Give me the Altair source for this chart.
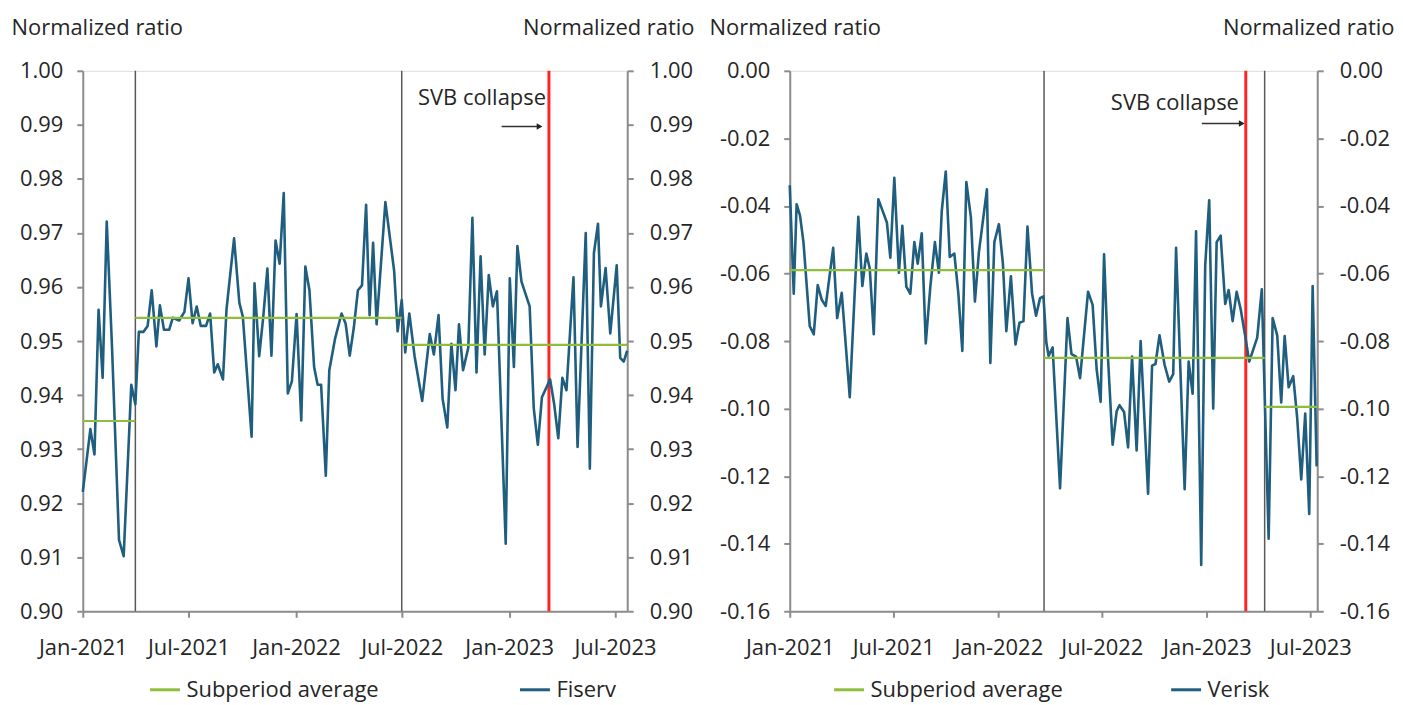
import altair as alt
import pandas as pd

BLUE = "#1f5e7e"
GREEN = "#8fbd3c"
RED = "#ff2424"
DARK = "#595959"
TEXT = "#262626"
AXIS = "#8c8c8c"
FONT = "Open Sans"
FS = 22

START = "2021-01-01"
SVB_DATE = "2023-03-10"
x_tick_dates = ["2021-01-01", "2021-07-01", "2022-01-01", "2022-07-01", "2023-01-01", "2023-07-01"]

# ---- Fiserv (days since 2021-01-01, normalized ratio) ----
fiserv_days = [0, 13, 20, 27, 34, 41, 50, 62, 70, 83, 90, 96, 104, 111, 118, 126, 132, 139, 148, 154,
               165, 174, 181, 188, 195, 202, 211, 218, 225, 231, 240, 246, 259, 268, 274, 289, 294, 302,
               309, 316, 323, 330, 337, 344, 351, 358, 366, 374, 381, 388, 396, 402, 408, 416, 422, 432,
               443, 450, 457, 464, 471, 478, 485, 491, 497, 503, 518, 533, 539, 546, 552, 559, 568, 581,
               594, 601, 609, 616, 624, 631, 638, 644, 651, 660, 667, 674, 681, 688, 695, 702, 709, 724,
               731, 738, 744, 751, 765, 772, 779, 786, 800, 807, 814, 821, 828, 840, 847, 861, 868, 875,
               882, 887, 895, 903, 914, 920, 926, 932]
fiserv_values = [0.9221, 0.9337, 0.9290, 0.9558, 0.9432, 0.9721, 0.9490, 0.9132, 0.9102, 0.9419,
                 0.9383, 0.9517, 0.9517, 0.9528, 0.9594, 0.9490, 0.9566, 0.9521, 0.9521, 0.9543,
                 0.9538, 0.9554, 0.9616, 0.9533, 0.9564, 0.9528, 0.9528, 0.9551, 0.9442, 0.9457,
                 0.9429, 0.9558, 0.9690, 0.9571, 0.9545, 0.9323, 0.9607, 0.9472, 0.9545, 0.9634,
                 0.9473, 0.9686, 0.9643, 0.9774, 0.9403, 0.9426, 0.9550, 0.9353, 0.9638, 0.9594,
                 0.9452, 0.9419, 0.9419, 0.9251, 0.9446, 0.9505, 0.9551, 0.9532, 0.9473, 0.9525,
                 0.9594, 0.9603, 0.9752, 0.9548, 0.9682, 0.9531, 0.9757, 0.9630, 0.9518, 0.9576,
                 0.9479, 0.9551, 0.9472, 0.9389, 0.9513, 0.9475, 0.9548, 0.9393, 0.9340, 0.9495,
                 0.9409, 0.9531, 0.9446, 0.9488, 0.9728, 0.9442, 0.9657, 0.9475, 0.9622, 0.9564,
                 0.9592, 0.9125, 0.9616, 0.9452, 0.9676, 0.9610, 0.9564, 0.9376, 0.9308, 0.9396,
                 0.9429, 0.9383, 0.9320, 0.9432, 0.9409, 0.9618, 0.9304, 0.9700, 0.9264, 0.9663,
                 0.9717, 0.9564, 0.9635, 0.9514, 0.9640, 0.9469, 0.9462, 0.9482]
fiserv_avg_start = ["2021-01-01", "2021-04-01", "2022-07-01"]
fiserv_avg_end = ["2021-04-01", "2022-07-01", "2023-07-22"]
fiserv_avg_value = [0.9352, 0.9543, 0.9493]
fiserv_breaks = ["2021-04-01", "2022-07-01"]
fiserv_y_ticks = [0.90, 0.91, 0.92, 0.93, 0.94, 0.95, 0.96, 0.97, 0.98, 0.99, 1.00]

# ---- Verisk (days since 2021-01-01, normalized ratio) ----
verisk_days = [0, 7, 12, 18, 24, 35, 42, 49, 56, 63, 76, 83, 91, 105, 120, 127, 134, 140, 147, 155,
               163, 170, 176, 183, 191, 197, 204, 211, 218, 224, 231, 238, 246, 254, 261, 266, 273,
               280, 288, 295, 302, 309, 317, 324, 331, 345, 351, 358, 366, 373, 379, 387, 395, 402,
               409, 416, 424, 431, 438, 444, 449, 453, 460, 473, 486, 493, 501, 508, 522, 530, 537,
               544, 550, 557, 565, 572, 577, 585, 592, 599, 607, 614, 627, 634, 640, 647, 656, 664,
               671, 676, 691, 698, 705, 711, 720, 727, 734, 741, 747, 754, 762, 768, 775, 782, 789,
               797, 804, 818, 826, 838, 845, 853, 860, 866, 873, 881, 888, 895, 902, 909, 915, 922]
verisk_values = [-0.0339, -0.0660, -0.0395, -0.0429, -0.0507, -0.0756, -0.0780, -0.0634, -0.0678,
                 -0.0696, -0.0524, -0.0732, -0.0657, -0.0966, -0.0432, -0.0637, -0.0541, -0.0585,
                 -0.0780, -0.0380, -0.0417, -0.0449, -0.0553, -0.0317, -0.0598, -0.0459, -0.0639,
                 -0.0660, -0.0507, -0.0571, -0.0481, -0.0807, -0.0639, -0.0507, -0.0598, -0.0415,
                 -0.0298, -0.0551, -0.0541, -0.0659, -0.0829, -0.0329, -0.0434, -0.0683, -0.0537,
                 -0.0351, -0.0865, -0.0507, -0.0454, -0.0571, -0.0771, -0.0608, -0.0810, -0.0746,
                 -0.0741, -0.0461, -0.0659, -0.0725, -0.0673, -0.0668, -0.0805, -0.0844, -0.0819,
                 -0.1236, -0.0732, -0.0839, -0.0846, -0.0910, -0.0654, -0.0693, -0.0883, -0.0980,
                 -0.0543, -0.0854, -0.1107, -0.1008, -0.0990, -0.1010, -0.1115, -0.0846, -0.1124,
                 -0.0800, -0.1252, -0.0873, -0.0868, -0.0783, -0.0871, -0.0920, -0.0898, -0.0524,
                 -0.1239, -0.0861, -0.0956, -0.0475, -0.1463, -0.0576, -0.0383, -0.1000, -0.0507,
                 -0.0488, -0.0690, -0.0649, -0.0741, -0.0654, -0.0705, -0.0785, -0.0861, -0.0790,
                 -0.0647, -0.1385, -0.0732, -0.0783, -0.0982, -0.0785, -0.0937, -0.0904, -0.1029,
                 -0.1210, -0.1015, -0.1312, -0.0637, -0.1171]
verisk_avg_start = ["2021-01-01", "2022-03-22", "2023-04-12"]
verisk_avg_end = ["2022-03-22", "2023-04-12", "2023-07-13"]
verisk_avg_value = [-0.0590, -0.0850, -0.0995]
verisk_breaks = ["2022-03-22", "2023-04-12"]
verisk_y_ticks = [-0.16, -0.14, -0.12, -0.10, -0.08, -0.06, -0.04, -0.02, 0.00]


def to_dates(days):
    return [pd.Timestamp(START) + pd.Timedelta(days=d) for d in days]


def dt(s):
    t = pd.Timestamp(s)
    return alt.DateTime(year=t.year, month=t.month, date=t.day)


LABEL_EXPR = "(datum.value < -0.00001 ? '-' : '') + format(abs(datum.value), '.2f')"


def y_axis(orient, ticks, title_x, align, pad):
    return alt.Axis(
        orient=orient, values=ticks, labelExpr=LABEL_EXPR, grid=False,
        title="Normalized ratio", titleAngle=0, titleAlign=align, titleX=title_x, titleY=-43,
        titleBaseline="middle", titleFontWeight="normal", titleFontSize=FS, titleColor=TEXT,
        labelFontSize=FS, labelColor=TEXT, labelPadding=pad,
        domainColor=AXIS, domainWidth=2, tickColor=AXIS, tickWidth=2, tickSize=6,
    )


def panel(name, days, values, avg_start, avg_end, avg_value, breaks, x_end, y_ticks,
          width, height, lt_x, rt_x, legend_x, legend_pad,
          note_date, note_y, arrow_from, arrow_to, arrow_y):
    series = pd.DataFrame({"date": to_dates(days), "value": values, "series": name})
    avg = pd.DataFrame({"date": pd.to_datetime(avg_start), "end": pd.to_datetime(avg_end),
                        "value": avg_value, "series": "Subperiod average"})
    brk = pd.DataFrame({"date": pd.to_datetime(breaks)})
    svb = pd.DataFrame({"date": pd.to_datetime([SVB_DATE])})
    note = pd.DataFrame({"date": pd.to_datetime([note_date]), "value": [note_y], "label": ["SVB collapse"]})
    arrow = pd.DataFrame({"date": pd.to_datetime([arrow_from]), "end": pd.to_datetime([arrow_to]),
                          "value": [arrow_y]})

    xscale = alt.Scale(domain=[dt(START), dt(x_end)], nice=False)
    xaxis = alt.Axis(values=[dt(s) for s in x_tick_dates], format="%b-%Y", grid=False, title=None,
                     labelFontSize=FS, labelColor=TEXT, labelPadding=20, labelFlush=False,
                     labelOverlap=False, labelBound=False,
                     domainColor=AXIS, domainWidth=2, tickColor=AXIS, tickWidth=2, tickSize=6)
    X = alt.X("date:T", scale=xscale, axis=xaxis)
    yscale = alt.Scale(domain=[min(y_ticks), max(y_ticks)], nice=False, zero=False)
    color = alt.Color("series:N",
                      scale=alt.Scale(domain=["Subperiod average", name], range=[GREEN, BLUE]),
                      legend=alt.Legend(orient="none", legendX=legend_x, legendY=height + 62,
                                        direction="horizontal", title=None, symbolType="stroke",
                                        symbolSize=900, symbolStrokeWidth=3, labelFontSize=FS,
                                        labelLimit=400, labelColor=TEXT, columnPadding=legend_pad,
                                        labelOffset=5))

    brk_layer = alt.Chart(brk).mark_rule(color=DARK, strokeWidth=1.5).encode(x=X)
    svb_layer = alt.Chart(svb).mark_rule(color=RED, strokeWidth=3).encode(x=X)
    line = alt.Chart(series).mark_line(strokeWidth=2.6, strokeJoin="round").encode(
        x=X, y=alt.Y("value:Q", scale=yscale, axis=y_axis("left", y_ticks, lt_x, "left", 14)),
        color=color)
    avg_layer = alt.Chart(avg).mark_rule(strokeWidth=2.2).encode(
        x=X, x2=alt.X2("end:T"),
        y=alt.Y("value:Q", scale=yscale, axis=y_axis("right", y_ticks, rt_x, "right", 16)),
        color=color)
    note_layer = alt.Chart(note).mark_text(align="right", baseline="middle", fontSize=FS,
                                           color=TEXT).encode(
        x=X, y=alt.Y("value:Q", scale=yscale, axis=None), text="label:N")
    arrow_line = alt.Chart(arrow).mark_rule(color="#333333", strokeWidth=1.3).encode(
        x=X, x2=alt.X2("end:T"), y=alt.Y("value:Q", scale=yscale, axis=None))
    arrow_head = alt.Chart(arrow).mark_point(shape="triangle-right", filled=True, size=45,
                                             color="#222222", opacity=1).encode(
        x=alt.X("end:T", scale=xscale, axis=xaxis), y=alt.Y("value:Q", scale=yscale, axis=None))

    return alt.layer(brk_layer, svb_layer, line, avg_layer, note_layer, arrow_line, arrow_head).resolve_scale(
        y="independent").properties(width=width, height=height)


left = panel("Fiserv", fiserv_days, fiserv_values, fiserv_avg_start, fiserv_avg_end, fiserv_avg_value,
             fiserv_breaks, "2023-07-22", fiserv_y_ticks, 546, 542, -72, 67, 66, 135,
             "2023-03-05", 0.9950, "2022-12-19", "2023-02-22", 0.9897)
right = panel("Verisk", verisk_days, verisk_values, verisk_avg_start, verisk_avg_end, verisk_avg_value,
              verisk_breaks, "2023-07-13", verisk_y_ticks, 529, 542, -81, 77, 43, 102,
              "2023-02-26", -0.0094, "2022-12-23", "2023-03-03", -0.0156)

chart = alt.hconcat(left, right, spacing=13).resolve_scale(
    color="independent", x="independent").resolve_legend(color="independent").properties(
    padding={"left": 2, "top": 7, "right": 0, "bottom": 0}, background="white"
).configure_view(stroke=None).configure(font=FONT)

chart.save("out.html", embed_options={"renderer": "svg", "actions": False})
